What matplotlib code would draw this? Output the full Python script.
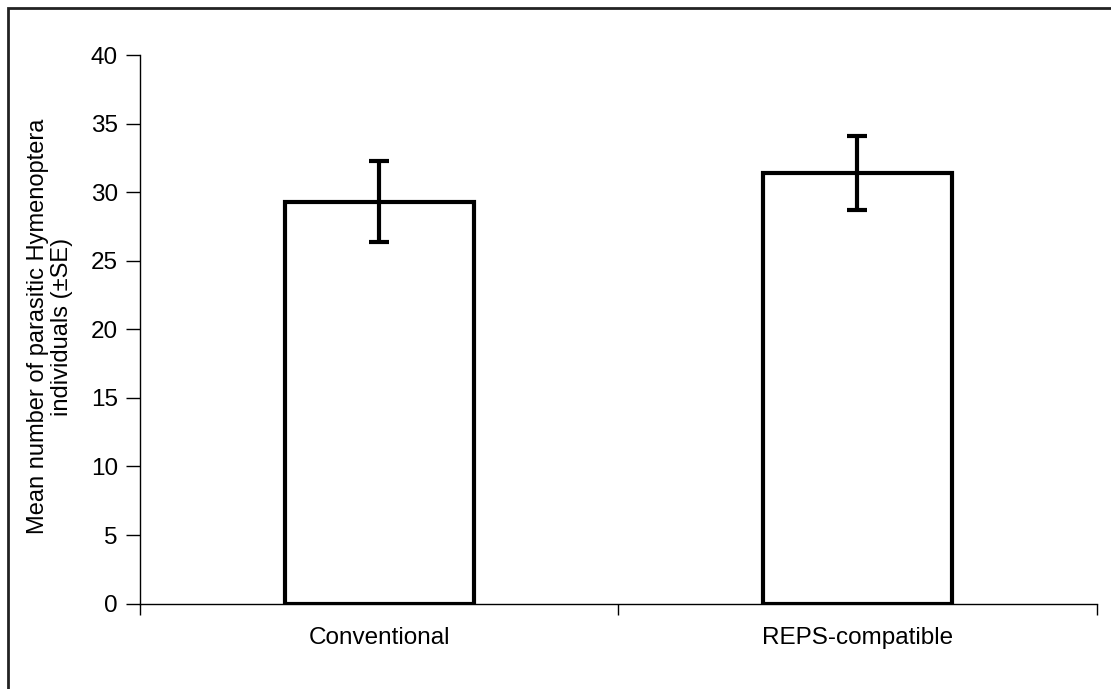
import matplotlib
matplotlib.use("Agg")
import matplotlib.pyplot as plt
from matplotlib.patches import Rectangle

# data
categories = ["Conventional", "REPS-compatible"]
means = [29.3, 31.4]
se = [2.96, 2.67]
yticks = [0, 5, 10, 15, 20, 25, 30, 35, 40]

plt.rcParams['font.family'] = ['Liberation Sans', 'DejaVu Sans']

fig = plt.figure(figsize=(11.11, 6.89), dpi=100)
ax = fig.add_axes([0.126, 0.124, 0.861, 0.796])

x = range(len(categories))
ax.bar(x, means, width=0.395, color='white', edgecolor='black', linewidth=3)
ax.errorbar(x, means, yerr=se, fmt='none', ecolor='black',
            elinewidth=3, capsize=7, capthick=3)

ax.set_xlim(-0.5, 1.5)
ax.set_ylim(0, 40)
ax.set_yticks(yticks)
ax.set_yticklabels([str(t) for t in yticks], fontsize=17.5)
ax.set_xticks([-0.5, 0.5, 1.5])
ax.set_xticklabels([])
ax.set_xticks(list(x), minor=True)
ax.set_xticklabels(categories, minor=True, fontsize=17.5)
ax.tick_params(axis='x', which='minor', length=0, pad=17)
ax.tick_params(axis='x', which='major', length=8, width=1)
ax.tick_params(axis='y', length=10, width=1, pad=6)

for s in ['top', 'right']:
    ax.spines[s].set_visible(False)
ax.spines['left'].set_linewidth(1)
ax.spines['bottom'].set_linewidth(1)

ax.set_ylabel("Mean number of parasitic Hymenoptera\nindividuals (±SE)",
              fontsize=17, linespacing=1.1)
ax.yaxis.set_label_coords(-0.07, 0.505)

# outer frame (only top and left edges fall inside the image)
fig.patches.append(Rectangle((8 / 1111, -0.1), 1.2, (689 - 8) / 689 + 0.1,
                             transform=fig.transFigure, fill=False,
                             edgecolor='#222222', linewidth=2))

fig.savefig("out.png", dpi=100)
